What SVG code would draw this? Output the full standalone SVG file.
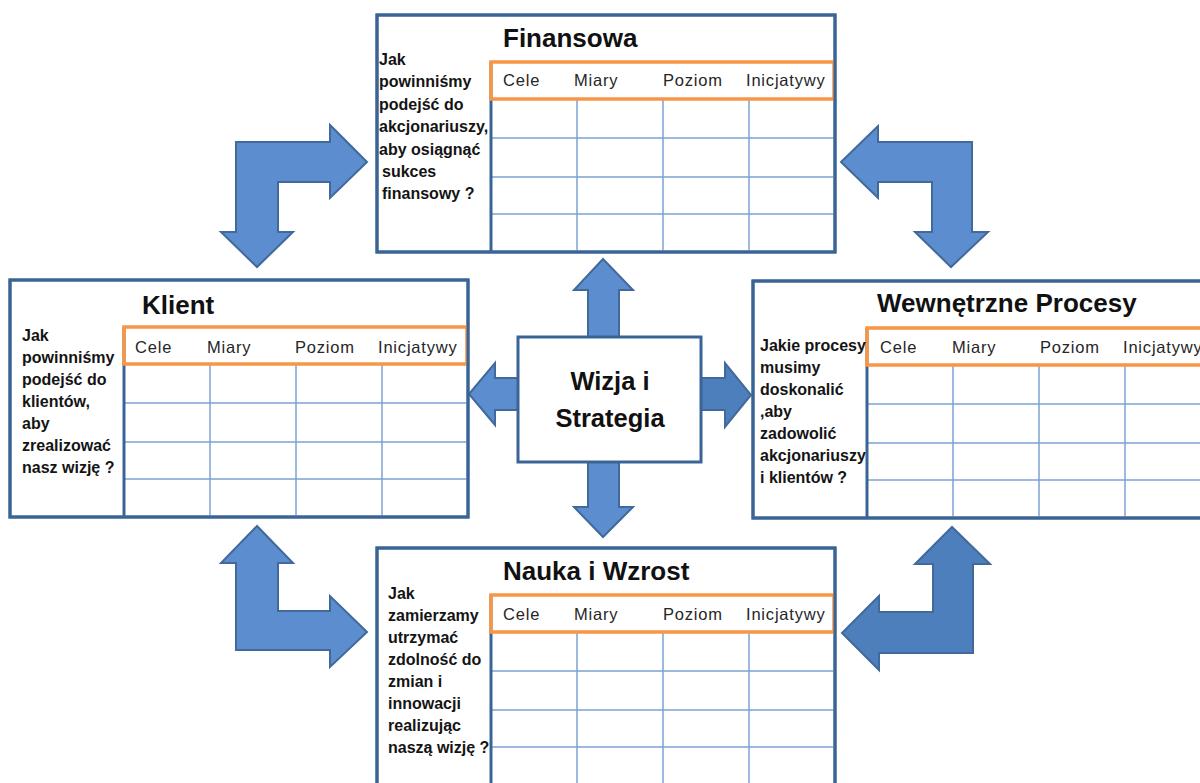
<svg xmlns="http://www.w3.org/2000/svg" xmlns:xlink="http://www.w3.org/1999/xlink" width="1200" height="783" viewBox="0 0 1200 783">
  <style>
    .frame { fill: #ffffff; stroke: #3b6496; stroke-width: 3; }
    .divider { stroke: #3b6496; stroke-width: 3; }
    .grid { stroke: #7da2d6; stroke-width: 1.5; }
    .head { fill: none; stroke: #f79646; stroke-width: 3.5; }
    .title { font-family: "Liberation Sans", Arial, sans-serif; font-weight: bold; font-size: 26px; fill: #111111; }
    .col { font-family: "Liberation Sans", Arial, sans-serif; font-size: 16.5px; letter-spacing: 0.8px; fill: #262626; }
    .q { font-family: "Liberation Sans", Arial, sans-serif; font-weight: bold; font-size: 16px; fill: #141414; }
    .arrow { fill: #5b8dcf; stroke: #41699b; stroke-width: 2; stroke-linejoin: miter; }
    .arrow.dark { fill: #4e7fbd; }
    .center { fill: #ffffff; stroke: #3b6496; stroke-width: 3; }
    .ctext { font-family: "Liberation Sans", Arial, sans-serif; font-weight: bold; font-size: 25.5px; fill: #111111; text-anchor: middle; }
  </style>
  <defs>
    <!-- scorecard table: question column on the left, 4 columns x 4 rows on the right -->
    <g id="scorecard-frame">
      <rect class="frame" x="0" y="0" width="458" height="237"/>
      <line class="grid" x1="200" y1="84" x2="200" y2="237"/>
      <line class="grid" x1="286" y1="84" x2="286" y2="237"/>
      <line class="grid" x1="372" y1="84" x2="372" y2="237"/>
      <line class="grid" x1="114" y1="123" x2="458" y2="123"/>
      <line class="grid" x1="114" y1="162" x2="458" y2="162"/>
      <line class="grid" x1="114" y1="199" x2="458" y2="199"/>
      <line class="divider" x1="114" y1="47" x2="114" y2="237"/>
      <rect class="head" x="114" y="47" width="343" height="37"/>
      <rect x="0" y="0" width="458" height="237" fill="none" stroke="#3b6496" stroke-width="3"/>
    </g>
  </defs>

  <rect width="1200" height="783" fill="#ffffff"/>

  <!-- arrows between the perspectives -->
  <g id="connectors">
    <!-- bent arrows in the corners -->
    <polygon class="arrow" points="236,142 330,142 330,125 367,162 330,198 330,182 278,182 278,232 293,232 257,267 221,232 236,232"/>
    <polygon class="arrow" points="972,142 878,142 878,126 841,162 878,198 878,182 932,182 932,232 915,232 951,267 988,232 972,232"/>
    <polygon class="arrow" points="236,650 236,563 221,563 257,526 293,563 278,563 278,611 330,611 330,596 367,632 330,667 330,650"/>
    <polygon class="arrow dark" points="973,653 973,564 990,564 952,527 915,564 933,564 933,612 879,612 879,596 842,633 879,670 879,653"/>
    <!-- arrows out of the centre -->
    <polygon class="arrow" points="588,340 588,290 574,290 603,259 633,290 619,290 619,340"/>
    <polygon class="arrow" points="588,459 588,507 574,507 603,537 633,507 619,507 619,459"/>
    <polygon class="arrow" points="521,378 495,378 495,363 469,394 495,425 495,410 521,410"/>
    <polygon class="arrow dark" points="698,378 725,378 725,363 751,395 725,427 725,410 698,410"/>
  </g>

  <g id="node-finansowa" transform="translate(377,15)">
    <use xlink:href="#scorecard-frame"/>
    <text class="title" x="126" y="32">Finansowa</text>
    <text class="col" x="126" y="71">Cele</text>
    <text class="col" x="197" y="71">Miary</text>
    <text class="col" x="286" y="71">Poziom</text>
    <text class="col" x="369" y="71">Inicjatywy</text>
    <text class="q" x="2" y="50">
      <tspan x="2" y="50">Jak</tspan>
      <tspan x="2" y="72.4">powinniśmy</tspan>
      <tspan x="2" y="94.8">podejść do</tspan>
      <tspan x="2" y="117.2">akcjonariuszy,</tspan>
      <tspan x="2" y="139.6">aby osiągnąć</tspan>
      <tspan x="5" y="162">sukces</tspan>
      <tspan x="5" y="184.4">finansowy ?</tspan>
    </text>
  </g>

  <g id="node-klient" transform="translate(10,280)">
    <use xlink:href="#scorecard-frame"/>
    <text class="title" x="132" y="34">Klient</text>
    <text class="col" x="125" y="73">Cele</text>
    <text class="col" x="197" y="73">Miary</text>
    <text class="col" x="285" y="73">Poziom</text>
    <text class="col" x="368" y="73">Inicjatywy</text>
    <text class="q" x="12" y="61">
      <tspan x="12" y="61">Jak</tspan>
      <tspan x="12" y="83">powinniśmy</tspan>
      <tspan x="12" y="105">podejść do</tspan>
      <tspan x="12" y="127">klientów,</tspan>
      <tspan x="12" y="149">aby</tspan>
      <tspan x="12" y="171">zrealizować</tspan>
      <tspan x="12" y="193">nasz wizję ?</tspan>
    </text>
  </g>

  <g id="node-procesy" transform="translate(753,281)">
    <use xlink:href="#scorecard-frame"/>
    <text class="title" x="124" y="31">Wewnętrzne Procesy</text>
    <text class="col" x="127" y="72">Cele</text>
    <text class="col" x="199" y="72">Miary</text>
    <text class="col" x="287" y="72">Poziom</text>
    <text class="col" x="370" y="72">Inicjatywy</text>
    <text class="q" x="7" y="70">
      <tspan x="7" y="70">Jakie procesy</tspan>
      <tspan x="7" y="92">musimy</tspan>
      <tspan x="7" y="114">doskonalić</tspan>
      <tspan x="7" y="136">,aby</tspan>
      <tspan x="7" y="158">zadowolić</tspan>
      <tspan x="7" y="180">akcjonariuszy</tspan>
      <tspan x="7" y="202">i klientów ?</tspan>
    </text>
  </g>

  <g id="node-nauka" transform="translate(377,548)">
    <use xlink:href="#scorecard-frame"/>
    <text class="title" x="126" y="32">Nauka i Wzrost</text>
    <text class="col" x="126" y="72">Cele</text>
    <text class="col" x="197" y="72">Miary</text>
    <text class="col" x="286" y="72">Poziom</text>
    <text class="col" x="369" y="72">Inicjatywy</text>
    <text class="q" x="11" y="51">
      <tspan x="11" y="51">Jak</tspan>
      <tspan x="11" y="73">zamierzamy</tspan>
      <tspan x="11" y="95">utrzymać</tspan>
      <tspan x="11" y="117">zdolność do</tspan>
      <tspan x="11" y="139">zmian i</tspan>
      <tspan x="11" y="161">innowacji</tspan>
      <tspan x="11" y="183">realizując</tspan>
      <tspan x="11" y="205">naszą wizję ?</tspan>
    </text>
  </g>

  <g id="node-wizja">
    <rect class="center" x="518" y="337" width="183" height="125"/>
    <text class="ctext" x="610" y="390">Wizja i</text>
    <text class="ctext" x="610" y="427">Strategia</text>
  </g>
</svg>
